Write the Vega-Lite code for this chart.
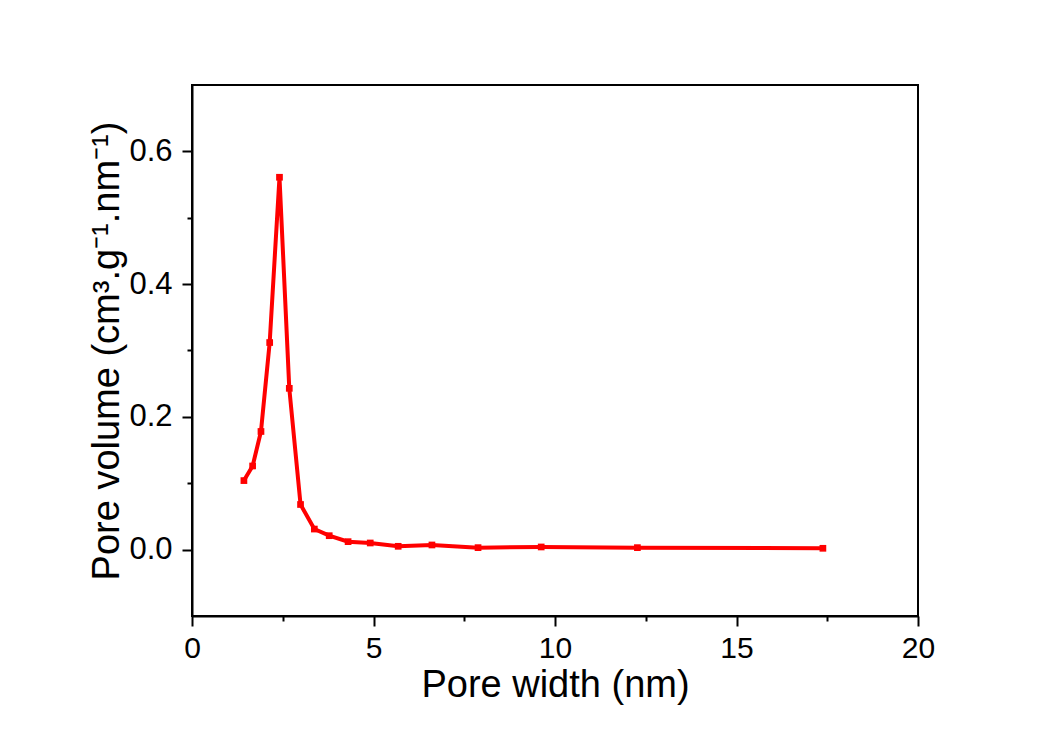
{
  "$schema": "https://vega.github.io/schema/vega-lite/v6.json",
  "autosize": {"type": "none"},
  "padding": {"left": 192, "top": 85, "right": 129, "bottom": 115},
  "width": 726,
  "height": 531,
  "background": "white",
  "config": {
    "view": {"stroke": "black", "strokeWidth": 2},
    "font": "Liberation Sans"
  },
  "data": {
    "values": [
      {"w": 1.43, "v": 0.104},
      {"w": 1.67, "v": 0.126},
      {"w": 1.90, "v": 0.178},
      {"w": 2.14, "v": 0.312},
      {"w": 2.41, "v": 0.561},
      {"w": 2.68, "v": 0.243},
      {"w": 2.99, "v": 0.068},
      {"w": 3.37, "v": 0.031},
      {"w": 3.78, "v": 0.021},
      {"w": 4.30, "v": 0.012},
      {"w": 4.91, "v": 0.010},
      {"w": 5.68, "v": 0.005},
      {"w": 6.61, "v": 0.007},
      {"w": 7.88, "v": 0.003},
      {"w": 9.62, "v": 0.004},
      {"w": 12.27, "v": 0.003},
      {"w": 17.38, "v": 0.002}
    ]
  },
  "encoding": {
    "x": {
      "field": "w", "type": "quantitative",
      "scale": {"domain": [0, 20], "nice": false, "zero": false},
      "axis": {
        "title": "Pore width (nm)",
        "values": [0, 2.5, 5, 7.5, 10, 12.5, 15, 17.5, 20],
        "labelExpr": "datum.value % 5 === 0 ? datum.label : ''",
        "tickSize": {"condition": {"test": "datum.value % 5 === 0", "value": 10}, "value": 5},
        "tickColor": "black", "tickWidth": 2,
        "domainColor": "black", "domainWidth": 2,
        "grid": false,
        "labelFontSize": 30, "labelColor": "black", "labelPadding": 7, "labelFlush": false,
        "titleFontSize": 38, "titleFontWeight": "normal", "titleColor": "black", "titlePadding": 3
      }
    },
    "y": {
      "field": "v", "type": "quantitative",
      "scale": {"domain": [-0.1, 0.7], "nice": false, "zero": false},
      "axis": {
        "title": "Pore volume (cm³.g⁻¹.nm⁻¹)",
        "values": [0, 0.1, 0.2, 0.3, 0.4, 0.5, 0.6],
        "labelExpr": "abs(round(datum.value*10)) % 2 === 0 ? format(datum.value, '.1f') : ''",
        "tickSize": {"condition": {"test": "abs(round(datum.value*10)) % 2 === 0", "value": 10}, "value": 5},
        "tickColor": "black", "tickWidth": 2,
        "domainColor": "black", "domainWidth": 2,
        "grid": false,
        "labelFontSize": 31, "labelColor": "black", "labelPadding": 10,
        "titleFontSize": 38, "titleFontWeight": "normal", "titleColor": "black", "titlePadding": 2
      }
    }
  },
  "layer": [
    {"mark": {"type": "line", "color": "#ff0000", "strokeWidth": 4}},
    {"mark": {"type": "point", "shape": "square", "filled": true, "color": "#ff0000", "size": 45, "opacity": 1}}
  ]
}
